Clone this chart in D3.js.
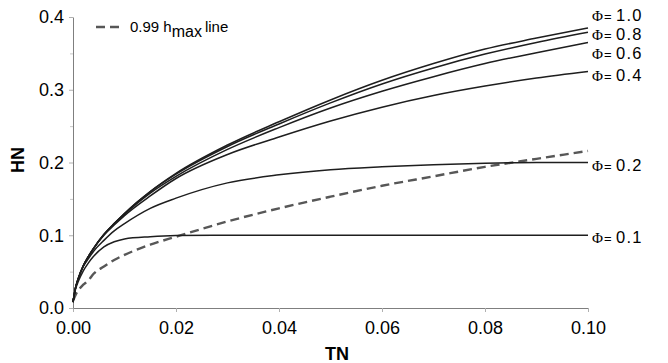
<!DOCTYPE html>
<html>
<head>
<meta charset="UTF-8" />
<title>HN vs TN</title>
<script src="https://cdn.jsdelivr.net/npm/d3@7"></script>
<style>
  body { margin: 0; background: #fff; }
  svg { display: block; font-family: "Liberation Sans", Arial, sans-serif; }
</style>
</head>
<body>
<svg id="chart" width="668" height="363"></svg>
<script>
// TN sample points shared by every curve
var tn = [0, 0.0005, 0.001, 0.002, 0.003, 0.004, 0.006, 0.008, 0.01, 0.015, 0.02,
          0.03, 0.04, 0.05, 0.06, 0.07, 0.08, 0.09, 0.10]

// HN for each porosity value
var phiLabels = ["1.0", "0.8", "0.6", "0.4", "0.2", "0.1"]
var hPhi10 = [0.008, 0.028, 0.040, 0.058, 0.071, 0.082, 0.101, 0.116, 0.130, 0.160, 0.185,
              0.224, 0.256, 0.286, 0.313, 0.336, 0.356, 0.371, 0.385]
var hPhi08 = [0.008, 0.028, 0.040, 0.058, 0.071, 0.082, 0.101, 0.116, 0.130, 0.160, 0.184,
              0.222, 0.253, 0.282, 0.308, 0.330, 0.349, 0.365, 0.379]
var hPhi06 = [0.008, 0.028, 0.040, 0.058, 0.071, 0.082, 0.101, 0.116, 0.129, 0.158, 0.181,
              0.218, 0.248, 0.275, 0.298, 0.318, 0.336, 0.351, 0.365]
var hPhi04 = [0.008, 0.028, 0.040, 0.058, 0.071, 0.082, 0.100, 0.114, 0.127, 0.154, 0.178,
              0.211, 0.235, 0.257, 0.276, 0.292, 0.305, 0.316, 0.325]
var hPhi02 = [0.008, 0.028, 0.040, 0.057, 0.068, 0.078, 0.093, 0.106, 0.116, 0.137, 0.151,
              0.172, 0.183, 0.190, 0.194, 0.197, 0.199, 0.200, 0.200]
var hPhi01 = [0.008, 0.026, 0.036, 0.051, 0.062, 0.071, 0.084, 0.091, 0.095, 0.098, 0.0995,
              0.100, 0.100, 0.100, 0.100, 0.100, 0.100, 0.100, 0.100]
// 0.99 hmax line
var hMax99 = [0.010, 0.018, 0.024, 0.032, 0.038, 0.047, 0.057, 0.066, 0.073, 0.087, 0.098,
              0.119, 0.137, 0.153, 0.168, 0.181, 0.194, 0.205, 0.216]

var xTicks = [0, 0.02, 0.04, 0.06, 0.08, 0.10]
var yTicks = [0, 0.1, 0.2, 0.3, 0.4]
var yMinor = [0.05, 0.15, 0.25, 0.35]

var curves = [hPhi10, hPhi08, hPhi06, hPhi04, hPhi02, hPhi01]
// small vertical shifts so the right-hand labels don't collide
var labelNudge = [-13, 2, 10.5, 3.5, 2.5, 1.5]

var svg = d3.select("#chart")
var x = d3.scaleLinear().domain([0, 0.1]).range([73, 588])
var y = d3.scaleLinear().domain([0, 0.4]).range([308, 17])
var axisColor = "#7f7f7f"
var sans = "'Liberation Sans', Arial, sans-serif"

// x axis
var xAxis = d3.axisBottom(x).tickValues(xTicks).tickSize(4).tickSizeOuter(0)
  .tickFormat(d3.format(".2f"))
var gx = svg.append("g").attr("transform", "translate(0,308)").call(xAxis)
gx.attr("font-family", sans)
gx.select(".domain").attr("stroke", axisColor)
gx.selectAll(".tick line").attr("stroke", "#b0b0b0")
gx.selectAll(".tick text").attr("font-size", 18).attr("fill", "#000").attr("dy", "1.05em")

// y axis, major and minor ticks
var yAxis = d3.axisLeft(y).tickValues(yTicks).tickSize(4).tickSizeOuter(0)
  .tickFormat(d3.format(".1f"))
var gy = svg.append("g").attr("transform", "translate(73,0)").call(yAxis)
gy.attr("font-family", sans)
gy.select(".domain").attr("stroke", axisColor)
gy.selectAll(".tick line").attr("stroke", "#b0b0b0")
gy.selectAll(".tick text").attr("font-size", 18).attr("fill", "#000").attr("x", -9)
var gyMinor = svg.append("g").attr("transform", "translate(73,0)")
  .call(d3.axisLeft(y).tickValues(yMinor).tickSize(3).tickSizeOuter(0).tickFormat(""))
gyMinor.select(".domain").remove()
gyMinor.selectAll(".tick line").attr("stroke", "#c8c8c8")

// axis titles
svg.append("text").attr("x", 337).attr("y", 360).attr("text-anchor", "middle")
  .attr("font-size", 18).attr("font-weight", "bold").text("TN")
svg.append("text").attr("transform", "translate(24,160) rotate(-90)")
  .attr("text-anchor", "middle").attr("font-size", 18).attr("font-weight", "bold").text("HN")

var line = d3.line()
  .x((d, i) => x(tn[i]))
  .y(d => y(d))
  .curve(d3.curveMonotoneX)

// 0.99 hmax dashed curve
svg.append("path")
  .attr("d", line(hMax99))
  .attr("fill", "none")
  .attr("stroke", "#575757")
  .attr("stroke-width", 2.4)
  .attr("stroke-dasharray", "9,5")

// porosity curves
svg.selectAll("path.phi")
  .data(curves)
  .enter()
  .append("path")
    .attr("class", "phi")
    .attr("d", d => line(d))
    .attr("fill", "none")
    .attr("stroke", "#1e1e1e")
    .attr("stroke-width", 1.5)

// curve labels on the right: Φ, a small "=", then the value
var lx = x(0.1) + 4
var labels = svg.selectAll("text.phiLabel")
  .data(curves)
  .enter()
  .append("text")
    .attr("class", "phiLabel")
    .attr("y", (d, i) => y(d[d.length - 1]) + labelNudge[i] + 6)
labels.append("tspan").attr("x", lx)
  .attr("font-family", "'Liberation Serif', 'Times New Roman', serif")
  .attr("font-size", 15).text("\u03A6")
labels.append("tspan").attr("x", lx + 12).attr("font-size", 13).text("=")
labels.append("tspan").attr("x", lx + 24).attr("font-size", 16.5)
  .attr("letter-spacing", 1.2).text((d, i) => phiLabels[i])

// legend
svg.append("line")
  .attr("x1", 96).attr("x2", 121).attr("y1", 27).attr("y2", 27)
  .attr("stroke", "#575757").attr("stroke-width", 2.4).attr("stroke-dasharray", "9,5")
var legendText = svg.append("text").attr("x", 130).attr("y", 32).attr("font-size", 15)
legendText.append("tspan").text("0.99 h")
legendText.append("tspan").attr("dy", 5).attr("font-size", 16).text("max")
legendText.append("tspan").attr("dy", -5).attr("dx", 3).text("line")
</script>
</body>
</html>
